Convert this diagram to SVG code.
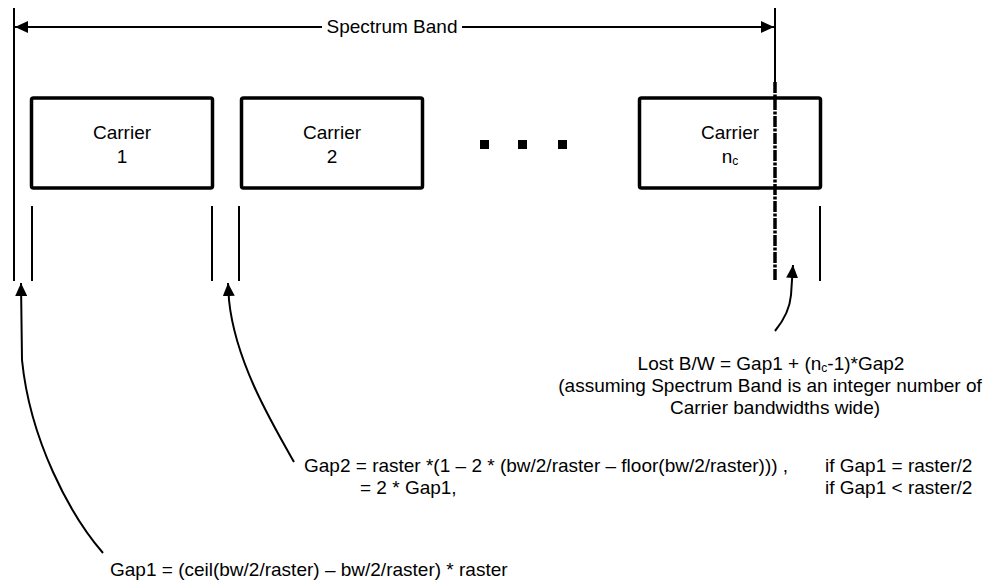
<svg xmlns="http://www.w3.org/2000/svg" width="995" height="583" viewBox="0 0 995 583">
<style>
text{font-family:"Liberation Sans",Arial,sans-serif;font-size:19px;fill:#000}
.box{fill:#fff;stroke:#000;stroke-width:3.5}
.ln{stroke:#000;stroke-width:2;fill:none}
.cv{stroke:#000;stroke-width:2;fill:none}
.sub{font-size:12px}
</style>
<defs>
<marker id="ah" markerWidth="14" markerHeight="12" refX="13" refY="6" orient="auto" markerUnits="userSpaceOnUse">
<path d="M0,0 L13,6 L0,12 Z" fill="#000"/>
</marker>
</defs>
<g id="band-label"><text x="392" y="33" text-anchor="middle">Spectrum Band</text></g>
<g id="carrier1">
<rect class="box" x="31.5" y="98" width="181" height="90" rx="2"/>
<text x="122" y="139" text-anchor="middle">Carrier</text>
<text x="122" y="163" text-anchor="middle">1</text>
</g>
<g id="carrier2">
<rect class="box" x="241.5" y="98" width="181" height="90" rx="2"/>
<text x="332" y="139" text-anchor="middle">Carrier</text>
<text x="332" y="163" text-anchor="middle">2</text>
</g>
<g id="ellipsis">
<rect x="480" y="140" width="9" height="9" fill="#000"/>
<rect x="518" y="140" width="9" height="9" fill="#000"/>
<rect x="558" y="140" width="9" height="9" fill="#000"/>
</g>
<g id="carrier-nc">
<rect class="box" x="639.5" y="98" width="181" height="90" rx="2"/>
<text x="730" y="139" text-anchor="middle">Carrier</text>
<text x="730" y="163" text-anchor="middle">n<tspan class="sub" dy="2">c</tspan></text>
</g>
<g id="lost-bw">
<text x="771" y="370" text-anchor="middle">Lost B/W = Gap1 + (n<tspan class="sub" dy="2">c</tspan><tspan dy="-2">-1)*Gap2</tspan></text>
<text x="770" y="392" text-anchor="middle">(assuming Spectrum Band is an integer number of</text>
<text x="775" y="414" text-anchor="middle">Carrier bandwidths wide)</text>
</g>
<g id="gap2">
<text x="304" y="472">Gap2 = raster *(1 – 2 * (bw/2/raster – floor(bw/2/raster))) ,</text>
<text x="825" y="472">if Gap1 = raster/2</text>
<text x="360" y="494">= 2 * Gap1,</text>
<text x="825" y="494">if Gap1 &lt; raster/2</text>
</g>
<g id="gap1">
<text x="110" y="576">Gap1 = (ceil(bw/2/raster) – bw/2/raster) * raster</text>
</g>
<g id="connectors">
<line class="ln" x1="14" y1="8" x2="14" y2="281"/>
<line class="ln" x1="775" y1="8" x2="775" y2="82"/>
<line x1="775" y1="82" x2="775" y2="281" stroke="#000" stroke-width="3.5" stroke-dasharray="11 1.5 3 1.5"/>
<line class="ln" x1="322" y1="27" x2="15" y2="27" marker-end="url(#ah)"/>
<line class="ln" x1="462" y1="27" x2="774" y2="27" marker-end="url(#ah)"/>
<line class="ln" x1="32" y1="206" x2="32" y2="281"/>
<line class="ln" x1="212" y1="206" x2="212" y2="281"/>
<line class="ln" x1="239" y1="206" x2="239" y2="281"/>
<line class="ln" x1="820" y1="206" x2="820" y2="281"/>
<path class="cv" d="M103,553 C70,515 30,440 22,360 L21,283" marker-end="url(#ah)"/>
<path class="cv" d="M294,462 C270,420 235,360 229,300 L228,283" marker-end="url(#ah)"/>
<path class="cv" d="M775,331 C784,320 790,308 791,295 L793,265" marker-end="url(#ah)"/>
</g>
</svg>
